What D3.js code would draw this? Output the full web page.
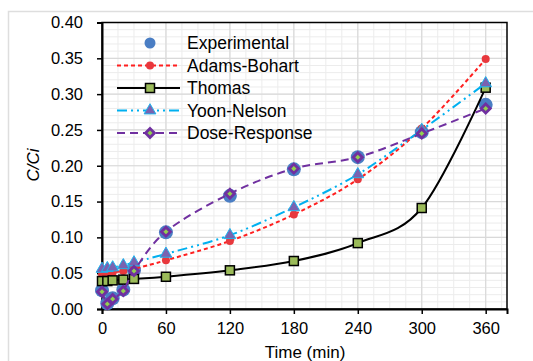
<!DOCTYPE html>
<html>
<head>
<meta charset="utf-8">
<script src="https://cdn.jsdelivr.net/npm/d3@7"></script>
<style>
  body { margin: 0; background: #fff; }
  text { font-family: "Liberation Sans", Arial, sans-serif; fill: #000; }
</style>
</head>
<body>
<svg id="chart" width="533" height="361"></svg>
<script>
const times = [0, 5, 10, 20, 30, 60, 120, 180, 240, 300, 360];
const experimental = [0.026, 0.008, 0.015, 0.027, 0.054, 0.107, 0.158, 0.195, 0.212, 0.247, 0.285];
const adamsBohart = [0.049, 0.050, 0.051, 0.053, 0.056, 0.068, 0.095, 0.132, 0.181, 0.252, 0.349];
const thomas = [0.039, 0.039, 0.040, 0.041, 0.042, 0.045, 0.054, 0.067, 0.092, 0.141, 0.309];
const yoonNelson = [0.056, 0.057, 0.058, 0.061, 0.065, 0.077, 0.103, 0.142, 0.188, 0.250, 0.315];
const doseResponse = [0.024, 0.007, 0.014, 0.025, 0.053, 0.108, 0.161, 0.196, 0.212, 0.245, 0.280];
const xTicks = [0, 60, 120, 180, 240, 300, 360];
const yTicks = [0, 0.05, 0.10, 0.15, 0.20, 0.25, 0.30, 0.35, 0.40];
const seriesNames = ['Experimental', 'Adams-Bohart', 'Thomas', 'Yoon-Nelson', 'Dose-Response'];

const svg = d3.select('#chart');
const x = d3.scaleLinear().domain([0, 380]).range([102, 507]);
const y = d3.scaleLinear().domain([0, 0.4]).range([309, 22.5]);

// outer chart border
svg.append('rect').attr('x', 8.5).attr('y', 11.5).attr('width', 540).attr('height', 380)
  .attr('fill', 'none').attr('stroke', '#dedede').attr('stroke-width', 1.5);

// grid
const grid = svg.append('g');
grid.selectAll('.vmin').data(d3.range(15, 380, 15)).join('line')
  .attr('x1', d => x(d)).attr('x2', d => x(d)).attr('y1', y(0)).attr('y2', y(0.4))
  .attr('stroke', '#ececec').attr('stroke-width', 1);
grid.selectAll('.hmin').data(d3.range(1, 40).map(d => d / 100)).join('line')
  .attr('x1', x(0)).attr('x2', x(380)).attr('y1', d => y(d)).attr('y2', d => y(d))
  .attr('stroke', '#ececec').attr('stroke-width', 1);
grid.selectAll('.vmaj').data(xTicks).join('line')
  .attr('x1', d => x(d)).attr('x2', d => x(d)).attr('y1', y(0)).attr('y2', y(0.4))
  .attr('stroke', '#d9d9d9').attr('stroke-width', 1.2);
grid.selectAll('.hmaj').data(yTicks).join('line')
  .attr('x1', x(0)).attr('x2', x(380)).attr('y1', d => y(d)).attr('y2', d => y(d))
  .attr('stroke', '#d9d9d9').attr('stroke-width', 1.2);

// plot frame
svg.append('rect').attr('x', x(0)).attr('y', y(0.4)).attr('width', x(380) - x(0)).attr('height', y(0) - y(0.4))
  .attr('fill', 'none').attr('stroke', '#000').attr('stroke-width', 1.5);

// axes
const xAxis = svg.append('g').attr('transform', 'translate(0,' + y(0) + ')')
  .call(d3.axisBottom(x).tickValues(xTicks).tickSize(5).tickPadding(8).tickFormat(d3.format('d')));
const yAxis = svg.append('g').attr('transform', 'translate(' + x(0) + ',0)')
  .call(d3.axisLeft(y).tickValues(yTicks).tickSize(5).tickPadding(14).tickFormat(d3.format('.2f')));
[xAxis, yAxis].forEach(a => {
  a.select('.domain').attr('stroke', '#000').attr('stroke-width', 2);
  a.selectAll('.tick line').attr('stroke', '#000').attr('stroke-width', 1.5);
  a.selectAll('.tick text').attr('font-size', 16.5).attr('font-family', '"Liberation Sans", Arial, sans-serif').attr('fill', '#000');
});

svg.append('text').attr('x', 305).attr('y', 358).attr('text-anchor', 'middle')
  .attr('font-size', 17).text('Time (min)');
svg.append('text').attr('transform', 'translate(39,165) rotate(-90)').attr('text-anchor', 'middle')
  .attr('font-size', 17).attr('font-style', 'italic').text('C/Ci');

// series
const pts = vals => vals.map((v, i) => [times[i], v]);
const line = d3.line().x(d => x(d[0])).y(d => y(d[1])).curve(d3.curveCardinal);

const styles = {
  'Adams-Bohart': { stroke: '#ff1f1f', dash: '4,3', width: 2 },
  'Thomas': { stroke: '#000', dash: null, width: 2 },
  'Yoon-Nelson': { stroke: '#00b0f0', dash: '10,4,2,4,2,4', width: 2 },
  'Dose-Response': { stroke: '#7030a0', dash: '8,5', width: 2 }
};

function marker(g, name, cx, cy, legend) {
  if (name === 'Experimental') {
    g.append('circle').attr('cx', cx).attr('cy', cy).attr('r', legend ? 5.5 : 7).attr('fill', '#4a7ec4');
  } else if (name === 'Adams-Bohart') {
    g.append('circle').attr('cx', cx).attr('cy', cy).attr('r', 4).attr('fill', '#e8383d');
  } else if (name === 'Thomas') {
    g.append('rect').attr('x', cx - 4.5).attr('y', cy - 4.5).attr('width', 9).attr('height', 9)
      .attr('fill', '#9bbb59').attr('stroke', '#000').attr('stroke-width', 1.5);
  } else if (name === 'Yoon-Nelson') {
    g.append('path').attr('d', d3.symbol(d3.symbolTriangle, 60)()).attr('transform', 'translate(' + cx + ',' + cy + ')')
      .attr('fill', '#7a62b0').attr('stroke', '#1fb4ee').attr('stroke-width', 1);
  } else {
    g.append('path').attr('d', 'M0,-4.5L4.5,0L0,4.5L-4.5,0Z').attr('transform', 'translate(' + cx + ',' + cy + ')')
      .attr('fill', '#92d050').attr('stroke', '#7030a0').attr('stroke-width', 2.8);
  }
}

const dataByName = {
  'Experimental': experimental,
  'Adams-Bohart': adamsBohart,
  'Thomas': thomas,
  'Yoon-Nelson': yoonNelson,
  'Dose-Response': doseResponse
};

seriesNames.forEach(name => {
  const g = svg.append('g');
  const s = styles[name];
  if (s) {
    g.append('path').datum(pts(dataByName[name])).attr('d', line)
      .attr('fill', 'none').attr('stroke', s.stroke).attr('stroke-width', s.width)
      .attr('stroke-dasharray', s.dash);
  }
  pts(dataByName[name]).forEach(d => marker(g, name, x(d[0]), y(d[1]), false));
});

// legend
const legend = svg.append('g');
seriesNames.forEach((name, i) => {
  const ly = 43 + i * 22.5;
  const s = styles[name];
  if (s) {
    legend.append('line').attr('x1', 117).attr('x2', 180).attr('y1', ly).attr('y2', ly)
      .attr('stroke', s.stroke).attr('stroke-width', s.width).attr('stroke-dasharray', s.dash);
  }
  marker(legend, name, 150, ly, true);
  legend.append('text').attr('x', 187).attr('y', ly).attr('dy', '0.35em')
    .attr('font-size', 17.5).text(name);
});
</script>
</body>
</html>
